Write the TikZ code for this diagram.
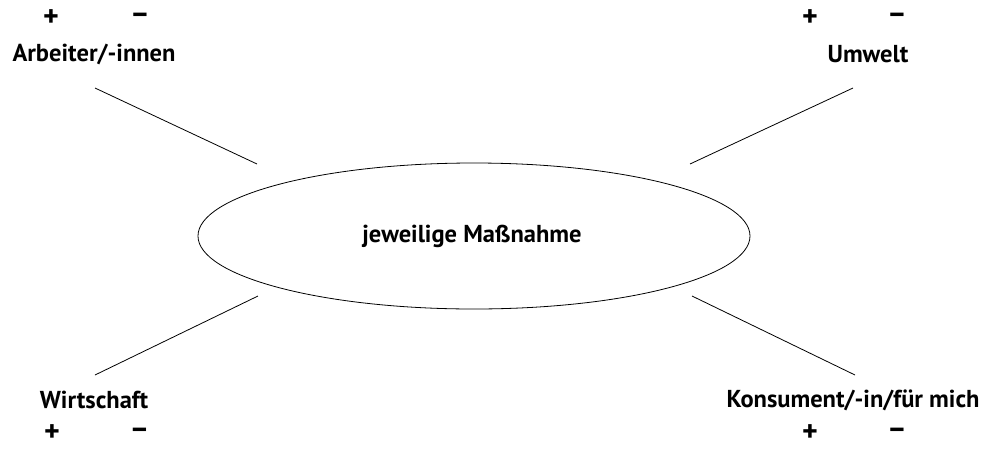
\documentclass[tikz,border=0pt]{standalone}
\usepackage{fontspec}
\setmainfont{PT Sans}
\usetikzlibrary{shapes.geometric}
\begin{document}
\begin{tikzpicture}[x=1pt,y=-1pt,
  lbl/.style={font=\fontsize{24.5}{28}\selectfont\bfseries, inner sep=0pt},
  sgn/.style={font=\fontsize{30}{32}\selectfont\bfseries, inner sep=0pt},
  conn/.style={line width=0.8pt}]
\useasboundingbox (0,0) rectangle (994,448);
\node[draw, ellipse, line width=0.8pt, minimum width=552, minimum height=146, inner sep=0pt] (m) at (474,236) {};
\node[lbl] (mt) at (472,236) {jeweilige Maßnahme};
% labels
\node[lbl] (a) at (94,54) {Arbeiter/-innen};
\node[sgn] (ap) at (51,18) {+};
\node[sgn] (am) at (140,18) {--};
\node[lbl] (u) at (868,54) {Umwelt};
\node[sgn] (up) at (810,18) {+};
\node[sgn] (um) at (897,18) {--};
\node[lbl] (w) at (94,400) {Wirtschaft};
\node[sgn] (wp) at (52,433) {+};
\node[sgn] (wm) at (139.5,433) {--};
\node[lbl] (k) at (853,400) {Konsument/-in/für mich};
\node[sgn] (kp) at (810,433) {+};
\node[sgn] (km) at (897,433) {--};
% connector ends
\coordinate (a1) at (95,88);
\coordinate (a2) at (257,164);
\coordinate (u1) at (853,88);
\coordinate (u2) at (690,164);
\coordinate (w1) at (95,375);
\coordinate (w2) at (258,296);
\coordinate (k1) at (855,375);
\coordinate (k2) at (692,296);
\draw[conn] (a1) -- (a2);
\draw[conn] (u1) -- (u2);
\draw[conn] (w1) -- (w2);
\draw[conn] (k1) -- (k2);
\end{tikzpicture}
\end{document}
